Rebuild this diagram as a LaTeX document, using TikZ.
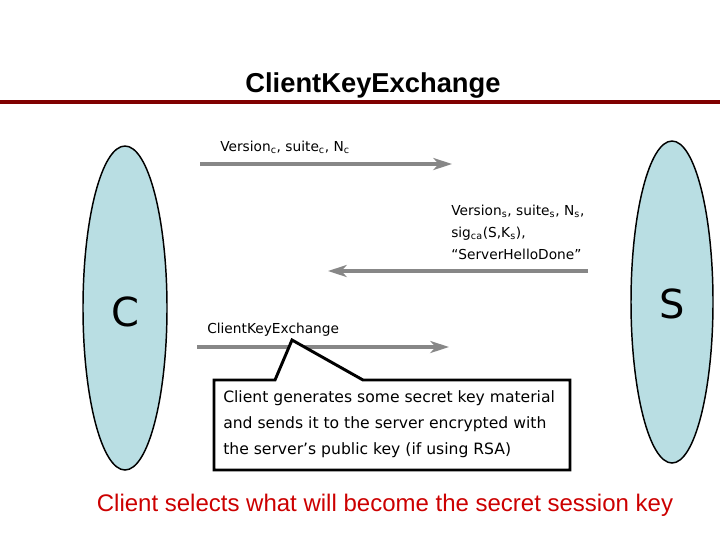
\documentclass[tikz,border=0pt]{standalone}
\usepackage{fontspec}
\setmainfont{Liberation Sans}
\newfontfamily\tah{DejaVu Sans}
\usetikzlibrary{shapes.geometric,arrows.meta}
\definecolor{ellfill}{RGB}{185,222,227}
\definecolor{darkred}{RGB}{128,0,0}
\definecolor{msggray}{RGB}{135,135,135}
\definecolor{notered}{RGB}{204,0,0}
\tikzset{
  party/.style={ellipse, draw=black, line width=1.1pt, fill=ellfill, inner sep=0pt},
  msg/.style={draw=msggray, line width=3.5pt, -{Stealth[length=14pt,width=9pt,inset=4pt]}},
  lbl/.style={anchor=base west, inner sep=0pt, font=\tah\fontsize{10.3}{12.4}\selectfont, text=black},
  notetext/.style={anchor=base west, inner sep=0pt, font=\tah\fontsize{11.7}{14}\selectfont, text=black},
  callout/.style={draw=black, line width=2.2pt, fill=white, line join=miter},
}
\begin{document}
\begin{tikzpicture}[x=0.75pt,y=-0.75pt]
\useasboundingbox (0,0) rectangle (720,540);
% title
\node[anchor=base, inner sep=0pt, font=\bfseries\fontsize{20.5}{24}\selectfont] (title) at (373,92) {ClientKeyExchange};
\coordinate (rl) at (0,102);
\coordinate (rr) at (720,102);
\draw[darkred, line width=3.5pt] (rl) -- (rr);
% parties
\node[party, minimum width=63pt, minimum height=243pt] (C) at (125,308) {};
\node[party, minimum width=61.5pt, minimum height=241.5pt] (S) at (672,302) {};
\node[font=\tah\fontsize{30}{36}\selectfont, inner sep=0pt] (Cl) at (125,312) {C};
\node[font=\tah\fontsize{30}{36}\selectfont, inner sep=0pt] (Sl) at (672,304) {S};
% messages
\coordinate (m1s) at (200,164); \coordinate (m1e) at (452,164);
\coordinate (m2s) at (588,271); \coordinate (m2e) at (328,271);
\coordinate (m3s) at (197,347); \coordinate (m3e) at (449,347);
\draw[msg] (m1s) -- (m1e);
\draw[msg] (m2s) -- (m2e);
\draw[msg] (m3s) -- (m3e);
\node[lbl] (l1) at (220,151) {Version\textsubscript{c}, suite\textsubscript{c}, N\textsubscript{c}};
\node[lbl] (l2a) at (451,215) {Version\textsubscript{s}, suite\textsubscript{s}, N\textsubscript{s},};
\node[lbl] (l2b) at (451,237) {sig\textsubscript{ca}(S,K\textsubscript{s}),};
\node[lbl] (l2c) at (451,259) {“ServerHelloDone”};
\node[lbl] (l3) at (207,333) {ClientKeyExchange};
% callout
\coordinate (tip) at (292,340);
\draw[callout] (214,380) -- (275,380) -- (tip) -- (363,380) -- (570,380) -- (570,470) -- (214,470) -- cycle;
\node[notetext] (note1) at (223,402) {Client generates some secret key material};
\node[notetext] (note2) at (223,428) {and sends it to the server encrypted with};
\node[notetext] (note3) at (223,454) {the server’s public key (if using RSA)};
% bottom
\node[anchor=base, inner sep=0pt, text=notered, font=\fontsize{18}{22}\selectfont] (bottom) at (385,511) {Client selects what will become the secret session key};
\end{tikzpicture}
\end{document}
